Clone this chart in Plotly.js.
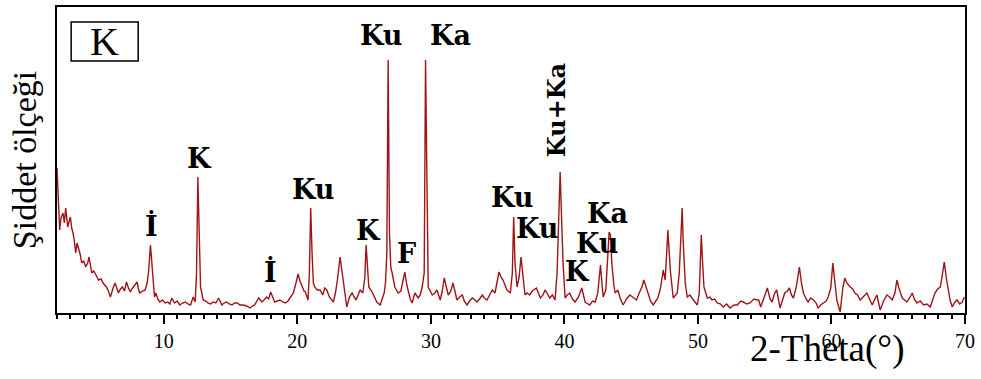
<!DOCTYPE html>
<html>
<head>
<meta charset="utf-8">
<script src="https://cdn.plot.ly/plotly-3.0.1.min.js"></script>
<style>html,body{margin:0;padding:0;background:#fff;}#chart{width:981px;height:379px;}</style>
</head>
<body>
<div id="chart"></div>
<script>
// 2-Theta positions (degrees)
const twoTheta = [
2.0,2.1,2.2,2.3,2.45,2.55,2.65,2.8,2.9,3.0,3.1,3.2,3.3,3.4,3.5,3.6,3.75,3.85,4.0,4.15,4.3,4.4,4.5,4.6,4.75,4.85,5.0,5.1,5.3,5.45,5.6,5.7,5.85,6.0,6.2,6.35,6.5,6.6,6.75,6.9,7.05,7.2,7.35,7.5,7.6,7.7,7.85,8.0,8.1,8.2,8.4,8.6,8.75,8.85,9.0,9.1,9.2,9.3,9.4,9.55,9.7,9.9,
10.1,10.3,10.45,10.6,10.8,11.0,11.2,11.4,11.6,11.8,12.0,12.2,12.35,12.45,12.55,12.65,12.75,12.95,13.15,13.3,13.5,13.7,13.9,14.1,14.35,14.5,14.7,14.9,15.1,15.3,15.5,15.7,15.95,16.2,16.45,16.65,16.8,17.1,17.35,17.5,17.7,17.85,18.0,18.15,18.3,18.5,18.7,18.9,19.1,19.3,19.45,19.6,19.7,19.9,
20.05,20.2,20.35,20.5,20.6,20.8,20.9,21.0,21.1,21.2,21.3,21.5,21.7,21.9,22.05,22.2,22.4,22.7,22.85,23.0,23.2,23.35,23.5,23.7,23.9,24.1,24.25,24.4,24.55,24.7,24.9,25.05,25.15,25.25,25.35,25.6,25.8,25.95,26.2,26.35,26.5,26.6,26.7,26.8,26.9,27.0,27.1,27.3,27.55,27.75,27.9,28.05,28.2,28.3,28.45,28.6,28.8,29.05,29.2,29.35,29.5,29.6,29.7,29.8,29.95,
30.1,30.3,30.45,30.7,30.85,31.0,31.15,31.3,31.5,31.65,31.8,31.95,32.15,32.35,32.5,32.7,32.9,33.1,33.3,33.45,33.65,33.85,34.0,34.2,34.4,34.6,34.8,34.95,35.1,35.25,35.4,35.55,35.7,35.95,36.1,36.2,36.3,36.45,36.6,36.75,36.9,37.05,37.2,37.4,37.6,37.9,38.05,38.2,38.4,38.55,38.7,38.9,39.1,39.3,39.45,39.55,39.68,39.8,39.9,
40.05,40.2,40.4,40.6,40.8,41.05,41.3,41.45,41.55,41.9,42.1,42.3,42.5,42.7,42.8,42.9,43.1,43.25,43.35,43.45,43.55,43.7,43.8,44.0,44.2,44.4,44.65,44.9,45.1,45.4,45.6,45.8,45.95,46.1,46.3,46.45,46.65,46.85,47.0,47.2,47.4,47.55,47.65,47.75,47.85,47.95,48.15,48.3,48.45,48.6,48.75,48.82,48.9,48.95,49.05,49.2,49.4,49.55,49.75,49.95,
50.1,50.25,50.35,50.45,50.7,50.9,51.05,51.25,51.45,51.7,51.9,52.15,52.4,52.7,52.95,53.2,53.4,53.65,53.9,54.2,54.45,54.55,54.7,55.0,55.2,55.4,55.55,55.75,55.9,56.15,56.35,56.5,56.7,56.85,57.0,57.15,57.35,57.5,57.6,57.75,57.9,58.1,58.25,58.45,58.65,58.85,59.0,59.2,59.4,59.6,59.75,59.95,
60.1,60.2,60.4,60.65,60.85,61.0,61.15,61.4,61.6,61.75,61.95,62.15,62.4,62.65,62.85,63.05,63.25,63.4,63.65,63.9,64.15,64.35,64.55,64.75,64.9,65.05,65.3,65.5,65.65,65.85,66.05,66.2,66.4,66.65,66.9,67.15,67.4,67.6,67.75,67.95,68.15,68.3,68.45,68.6,68.75,68.9,69.05,69.2,69.4,69.6,69.8,69.95
];
// Intensity (arbitrary units)
const intensity = [
145,110,83,95,100,90,105,86,92,96,85,80,72,60,70,66,58,50,52,46,50,56,46,40,42,40,36,33,34,30,28,26,22,16,25,30,24,20,24,26,22,31,25,21,24,26,28,31,24,20,22,23,30,40,68,50,36,16,20,14,11,13,
10,11,9,15,10,12,8,10,11,9,8,16,11,40,136,60,26,13,12,10,9,11,10,15,8,10,11,9,8,10,10,8,8,7,5,7,8,15,11,13,16,14,21,16,11,12,13,11,10,12,15,18,20,30,
39,32,26,22,21,13,40,105,60,30,26,23,23,18,25,23,16,11,20,33,56,40,23,6,16,20,16,13,18,23,20,35,68,40,26,21,15,11,8,14,20,30,60,253,80,45,40,26,20,22,30,41,28,23,14,10,20,15,18,26,40,253,120,26,22,
18,20,23,13,22,35,25,18,22,30,22,13,16,18,12,8,12,15,13,11,14,18,15,13,18,23,20,30,41,36,33,28,23,20,40,96,50,26,35,56,38,18,20,18,22,25,20,15,18,23,20,15,18,13,40,90,141,90,50,
15,18,20,14,11,16,25,16,11,8,12,11,20,48,30,16,23,60,81,78,50,28,20,23,14,8,14,18,16,13,20,26,33,26,18,12,8,12,15,25,43,33,60,83,60,40,15,18,20,40,90,105,70,50,30,16,18,15,12,8,
20,78,50,26,15,16,13,14,10,9,6,9,5,8,8,12,11,9,10,14,13,13,6,18,25,14,11,20,23,5,15,20,22,25,18,15,25,40,46,30,20,14,11,15,13,10,5,8,10,12,16,25,
50,35,13,1,25,35,30,26,24,20,18,13,16,20,14,8,14,18,3,12,18,16,13,20,33,25,15,13,11,15,20,14,10,12,8,9,6,14,20,24,26,38,51,35,23,12,6,10,13,9,11,16
];
// Peak labels
const labelText = ["İ","K","İ","Ku","K","F","Ku","Ka","Ku","Ku","Ka","Ku","K"];
const labelX    = [9.04,12.64,17.96,21.18,25.3,28.2,26.27,31.44,36.08,37.95,43.2,42.45,40.95];
const labelY    = [88,155,42,124,83,60,278,278,116,85,100,70,42];
const rotLabelText = ["Ku+Ka"];
const rotLabelX = [39.38];
const rotLabelY = [203];
const xTickVals = [10,20,30,40,50,60,70];
const sampleLabel = "K";
const xTitle = "2-Theta(°)";
const yTitle = "Şiddet ölçeği";

const serif = "Liberation Serif, Times New Roman, serif";
const boldSerif = "DejaVu Serif, serif";
const annotations = [];
for (let i = 0; i < labelText.length; i++) {
  annotations.push({x: labelX[i], y: labelY[i], xref: "x", yref: "y", text: labelText[i],
    showarrow: false, font: {family: boldSerif, size: 27, weight: 700, color: "#000"}, xanchor: "center", yanchor: "middle"});
}
for (let i = 0; i < rotLabelText.length; i++) {
  annotations.push({x: rotLabelX[i], y: rotLabelY[i], xref: "x", yref: "y", text: rotLabelText[i],
    textangle: -90, showarrow: false, font: {family: boldSerif, size: 24, weight: 700, color: "#000"}, xanchor: "center", yanchor: "middle"});
}
annotations.push({x: 5.56, y: 272, xref: "x", yref: "y", text: sampleLabel, showarrow: false,
  font: {family: serif, size: 40, color: "#000"}, xanchor: "center", yanchor: "middle"});
annotations.push({x: (827 - 57) / 908, y: (313 - 349) / 306, xref: "paper", yref: "paper", text: xTitle, showarrow: false,
  font: {family: serif, size: 37, color: "#000"}, xanchor: "center", yanchor: "middle"});

const trace = {x: twoTheta, y: intensity, type: "scatter", mode: "lines",
  line: {color: "#9e1418", width: 1.4}, hoverinfo: "skip"};

const layout = {
  width: 981, height: 379,
  margin: {l: 57, r: 16, t: 7, b: 66},
  paper_bgcolor: "#fff", plot_bgcolor: "#fff",
  showlegend: false,
  xaxis: {range: [2, 70], tickvals: xTickVals, ticktext: xTickVals.map(String),
    ticks: "outside", ticklen: 9, tickwidth: 2, tickcolor: "#000",
    minor: {dtick: 1, tick0: 0, ticks: "outside", ticklen: 4, tickwidth: 2, tickcolor: "#000"},
    showline: true, mirror: true, linecolor: "#000", linewidth: 2,
    showgrid: false, zeroline: false,
    tickfont: {family: serif, size: 20, color: "#000"}},
  yaxis: {range: [0, 306], showticklabels: false, ticks: "", showline: true, mirror: true,
    linecolor: "#000", linewidth: 2, showgrid: false, zeroline: false,
    title: {text: yTitle, font: {family: serif, size: 34, color: "#000"}, standoff: 8}},
  shapes: [{type: "rect", xref: "x", yref: "y", x0: 3.06, x1: 8.08, y0: 252, y1: 291,
    line: {color: "#000", width: 1.5}, fillcolor: "rgba(0,0,0,0)"}],
  annotations: annotations
};
Plotly.newPlot("chart", [trace], layout, {staticPlot: true, displayModeBar: false});
</script>
</body>
</html>
